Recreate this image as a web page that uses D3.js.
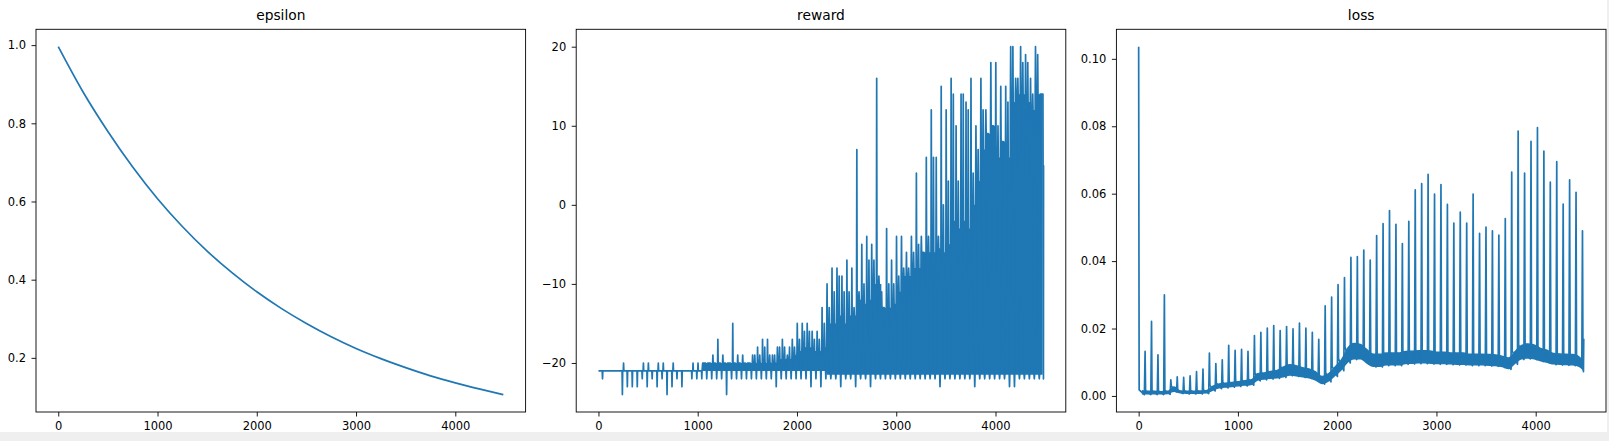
<!DOCTYPE html>
<html>
<head>
<meta charset="utf-8">
<script src="https://cdn.jsdelivr.net/npm/d3@7"></script>
<style>
  html, body { margin: 0; padding: 0; background: #fff; }
  body { width: 1609px; height: 441px; overflow: hidden; }
  svg text { font-family: "DejaVu Sans", sans-serif; fill: #000; }
  .tick text { font-size: 11.5px; }
  .panel-title { font-size: 13.8px; }
</style>
</head>
<body>
<div class="figure"></div>
<script>
// Gemensamma x-värden (steg)
const xTicks = [0, 1000, 2000, 3000, 4000];
const lastStep = 4484;

// epsilon, avläst var 250:e steg
const epsilonSteps = [0, 250, 500, 750, 1000, 1250, 1500, 1750, 2000, 2250,
    2500, 2750, 3000, 3250, 3500, 3750, 4000, 4250, 4484];
const epsilonValues = [0.996, 0.880, 0.779, 0.688, 0.607, 0.536, 0.473, 0.418, 0.369, 0.326,
    0.288, 0.254, 0.224, 0.198, 0.175, 0.154, 0.136, 0.120, 0.106];
const epsilonTicks = [0.2, 0.4, 0.6, 0.8, 1.0];

// reward, ett värde per block om 50 steg
const rewardBin = 50;
// högsta topp i blocket
const rewardMax = [
    -21, -21, -21, -21, -21, -20, -21, -21, -21, -20,
    -20, -21, -20, -20, -21, -20, -21, -21, -21, -20,
    -20, -20, -20, -19, -17, -19, -20, -15, -19, -19,
    -20, -19, -18, -17, -17, -19, -18, -17, -19, -17,
    -15, -15, -15, -16, -16, -13, -10, -8, -8, -9,
    -7, -8, 7, -5, -4, -5, 16, -11, -3, -7,
    -4, -4, -6, -4, 4, -4, 6, 12, 6, 15,
    12, 16, 10, 14, 13, 16, 10, 16, 12, 18,
    18, 15, 15, 20, 16, 20, 19, 16, 20, 14];
// näst högsta topp i blocket
const rewardSecond = [
    -21, -21, -21, -21, -21, -21, -21, -21, -21, -21,
    -21, -21, -21, -21, -21, -21, -21, -21, -21, -21,
    -21, -20, -20, -20, -20, -20, -20, -20, -20, -20,
    -20, -19, -19, -18, -19, -19, -18, -18, -18, -18,
    -17, -16, -16, -17, -17, -15, -13, -11, -9, -11,
    -11, -13, -11, -10, -7, -7, -9, -13, -10, -10,
    -9, -8, -8, -6, -5, -6, -4, 6, -4, 0,
    3, 14, 3, 14, 12, 4, 7, 12, 9, 10,
    10, 8, 13, 20, 16, 18, 18, 14, 19, 14];
// lägsta dal i blocket
const rewardMin = [
    -22, -21, -21, -21, -24, -23, -23, -23, -22, -23,
    -22, -23, -22, -24, -23, -22, -23, -21, -22, -22,
    -22, -22, -22, -22, -22, -24, -22, -22, -22, -22,
    -22, -22, -22, -22, -22, -23, -22, -22, -22, -22,
    -22, -22, -23, -22, -23, -22, -22, -22, -23, -22,
    -22, -23, -22, -22, -23, -22, -22, -22, -22, -22,
    -22, -22, -22, -22, -22, -22, -22, -22, -23, -22,
    -22, -22, -22, -22, -22, -23, -22, -22, -22, -22,
    -22, -22, -23, -23, -22, -22, -22, -22, -22, -22];
// övre och undre kant på det täta (helfyllda) bandet
const rewardDenseTop = [
    -21, -21, -21, -21, -21, -21, -21, -21, -21, -21,
    -21, -21, -21, -21, -21, -21, -21, -21, -21, -21,
    -21, -20, -20, -20, -20, -20, -20, -20, -20, -20,
    -20, -20, -20, -20, -20, -20, -19.5, -19.5, -19.5, -19,
    -18.5, -18, -18, -18.5, -18.5, -18, -15, -15, -14, -15,
    -14, -14, -12, -12.5, -12, -10, -10, -13, -13, -12.5,
    -11, -9, -9, -8, -8, -6, -6, -6, -5.5, -6,
    -5, -2, -3, -2, -3, 0, 3, 7, 9, 10,
    6, 8, 6, 13, 14, 14, 13, 12, 14, 14];
const rewardDenseBottom = [
    -21, -21, -21, -21, -21, -21, -21, -21, -21, -21,
    -21, -21, -21, -21, -21, -21, -21, -21, -21, -21,
    -21, -21, -21, -21, -21, -21, -21, -21, -21, -21,
    -21, -21, -21, -21, -21, -21, -21, -21, -21, -21,
    -21, -21, -21, -21, -21, -21, -21.5, -21.5, -21.5, -21.5,
    -21.5, -21.5, -21.5, -21.5, -21.5, -21.5, -21.5, -21.5, -21.5, -21.5,
    -21.5, -21.5, -21.5, -21.5, -21.5, -21.5, -21.5, -21.5, -21.5, -21.5,
    -21.5, -21.5, -21.5, -21.5, -21.5, -21.5, -21.5, -21.5, -21.5, -21.5,
    -21.5, -21.5, -21.5, -21.5, -21.5, -21.5, -21.5, -21.5, -21.5, -21.5];
const rewardLast = 5;
const rewardTicks = [-20, -10, 0, 10, 20];

// loss, ett värde per cykel (en topp var ~65:e steg)
const lossCycle = 64.8;
const lossPeak = [
    0.1036, 0.0132, 0.0221, 0.0122, 0.0300, 0.0048, 0.0057, 0.0055, 0.0060, 0.0072,
    0.0080, 0.0127, 0.0096, 0.0107, 0.0150, 0.0135, 0.0138, 0.0132, 0.0179, 0.0189,
    0.0201, 0.0209, 0.0194, 0.0206, 0.0199, 0.0216, 0.0201, 0.0189, 0.0168, 0.0267,
    0.0293, 0.0330, 0.0351, 0.0411, 0.0413, 0.0433, 0.0403, 0.0476, 0.0511, 0.0550,
    0.0509, 0.0452, 0.0518, 0.0611, 0.0630, 0.0657, 0.0599, 0.0627, 0.0568, 0.0513,
    0.0545, 0.0513, 0.0599, 0.0482, 0.0501, 0.0490, 0.0477, 0.0526, 0.0664, 0.0786,
    0.0661, 0.0755, 0.0796, 0.0726, 0.0634, 0.0695, 0.0569, 0.0641, 0.0604, 0.0490];
const lossBandLow = [
    0.0004, 0.0004, 0.0004, 0.0004, 0.0005, 0.0012, 0.0007, 0.0006, 0.0006, 0.0006,
    0.0007, 0.0015, 0.0022, 0.0024, 0.0026, 0.0028, 0.0030, 0.0032, 0.0045, 0.0048,
    0.0050, 0.0052, 0.0055, 0.0060, 0.0058, 0.0055, 0.0052, 0.0045, 0.0035, 0.0042,
    0.0058, 0.0075, 0.0098, 0.0108, 0.0108, 0.0095, 0.0086, 0.0086, 0.0090, 0.0090,
    0.0090, 0.0094, 0.0095, 0.0096, 0.0096, 0.0095, 0.0094, 0.0094, 0.0093, 0.0092,
    0.0092, 0.0090, 0.0090, 0.0090, 0.0089, 0.0088, 0.0085, 0.0079, 0.0094, 0.0108,
    0.0110, 0.0108, 0.0102, 0.0098, 0.0093, 0.0092, 0.0091, 0.0090, 0.0085, 0.0072];
const lossBandHigh = [
    0.0018, 0.0016, 0.0016, 0.0015, 0.0016, 0.0029, 0.0017, 0.0016, 0.0016, 0.0017,
    0.0018, 0.0031, 0.0038, 0.0040, 0.0042, 0.0044, 0.0047, 0.0050, 0.0068, 0.0070,
    0.0075, 0.0078, 0.0088, 0.0095, 0.0092, 0.0086, 0.0082, 0.0074, 0.0060, 0.0068,
    0.0088, 0.0110, 0.0145, 0.0158, 0.0155, 0.0140, 0.0126, 0.0126, 0.0130, 0.0130,
    0.0130, 0.0134, 0.0135, 0.0136, 0.0136, 0.0135, 0.0132, 0.0132, 0.0130, 0.0130,
    0.0130, 0.0126, 0.0126, 0.0126, 0.0125, 0.0124, 0.0120, 0.0115, 0.0134, 0.0152,
    0.0156, 0.0153, 0.0143, 0.0138, 0.0128, 0.0127, 0.0126, 0.0125, 0.0118, 0.0105];
const lossLast = 0.017;
const lossTicks = [0.00, 0.02, 0.04, 0.06, 0.08, 0.10];

// Layout (matplotlib-liknande)
const figW = 1609, figH = 441;
const axesLeft0 = 36, axesGap = 50.6;
const axesWidth = 489.6, axesTop = 29.3, axesHeight = 382.7;
const blue = "#1f77b4";

// 5 % marginal som matplotlib
function padDomain(lo, hi) {
    const m = (hi - lo) * 0.05;
    return [lo - m, hi + m];
}

function createPanel(svg, index, title, yExtent, yTicks, yFormat) {
    const left = axesLeft0 + index * (axesWidth + axesGap);
    const g = svg.append("g").attr("transform", `translate(${left},${axesTop})`);

    const x = d3.scaleLinear().domain(padDomain(0, lastStep)).range([0, axesWidth]);
    const y = d3.scaleLinear().domain(padDomain(yExtent[0], yExtent[1])).range([axesHeight, 0]);

    const plot = g.append("g");

    // ram + axlar ritas efter datat
    const drawFrame = () => {
        g.append("rect")
            .attr("width", axesWidth)
            .attr("height", axesHeight)
            .attr("fill", "none")
            .attr("stroke", "#000")
            .attr("stroke-width", 0.9);

        g.append("g")
            .attr("transform", `translate(0,${axesHeight})`)
            .call(d3.axisBottom(x).tickValues(xTicks).tickSize(4.5).tickPadding(5).tickFormat(d3.format("d")))
            .call(a => a.select(".domain").remove())
            .call(a => a.selectAll(".tick line").attr("stroke-width", 0.9));

        g.append("g")
            .call(d3.axisLeft(y).tickValues(yTicks).tickSize(4.5).tickPadding(5.5).tickFormat(yFormat))
            .call(a => a.select(".domain").remove())
            .call(a => a.selectAll(".tick line").attr("stroke-width", 0.9));

        g.append("text")
            .attr("class", "panel-title")
            .attr("x", axesWidth / 2)
            .attr("y", -9)
            .attr("text-anchor", "middle")
            .text(title);
    };

    return { plot, x, y, drawFrame };
}

function createFigure() {
    const svg = d3.select("div.figure").append("svg")
        .attr("width", figW)
        .attr("height", figH);

    svg.append("rect").attr("width", figW).attr("height", figH).attr("fill", "#fff");

    // --- epsilon ---
    const eps = createPanel(svg, 0, "epsilon",
        d3.extent(epsilonValues), epsilonTicks, d3.format(".1f"));
    eps.plot.append("path")
        .datum(epsilonSteps.map((s, i) => [s, epsilonValues[i]]))
        .attr("fill", "none")
        .attr("stroke", blue)
        .attr("stroke-width", 1.7)
        .attr("d", d3.line().x(d => eps.x(d[0])).y(d => eps.y(d[1])).curve(d3.curveMonotoneX));
    eps.drawFrame();

    // --- reward ---
    const rw = createPanel(svg, 1, "reward",
        [d3.min(rewardMin), d3.max(rewardMax)], rewardTicks,
        d => d < 0 ? "\u2212" + Math.abs(d) : String(d));

    // tätt band
    rw.plot.append("path")
        .datum(rewardDenseTop)
        .attr("fill", blue)
        .attr("d", d3.area()
            .x((d, b) => rw.x(b * rewardBin + rewardBin / 2))
            .y0((d, b) => rw.y(rewardDenseBottom[b]))
            .y1(d => rw.y(d))
            .curve(d3.curveStep));

    // toppar och dalar, tre utslag per block
    const rewardPoints = [];
    const clampStep = s => Math.min(s, lastStep - 1);
    rewardMax.forEach((hi, b) => {
        const s = b * rewardBin;
        const top = rewardDenseTop[b], bottom = rewardDenseBottom[b];
        [[0, top], [3, hi], [6, top],
         [22, top], [25, rewardSecond[b]], [28, top],
         [38, bottom], [41, rewardMin[b]], [44, bottom]]
            .forEach(([o, v]) => rewardPoints.push([clampStep(s + o), v]));
    });
    rewardPoints.push([lastStep, rewardLast]);

    rw.plot.append("path")
        .datum(rewardPoints)
        .attr("fill", "none")
        .attr("stroke", blue)
        .attr("stroke-width", 1.7)
        .attr("stroke-linejoin", "round")
        .attr("d", d3.line().x(d => rw.x(d[0])).y(d => rw.y(d[1])));
    rw.drawFrame();

    // --- loss ---
    const ls = createPanel(svg, 2, "loss",
        [d3.min(lossBandLow), d3.max(lossPeak)], lossTicks, d3.format(".2f"));

    ls.plot.append("path")
        .datum(lossBandHigh)
        .attr("fill", blue)
        .attr("d", d3.area()
            .x((d, k) => ls.x(Math.min(k * lossCycle + lossCycle / 2, lastStep)))
            .y0((d, k) => ls.y(lossBandLow[k]))
            .y1(d => ls.y(d))
            .curve(d3.curveMonotoneX));

    const lossPoints = [];
    lossPeak.forEach((peak, k) => {
        const s = k * lossCycle;
        lossPoints.push([s, peak], [s + 5, lossBandHigh[k]],
            [Math.min(s + 58, lastStep - 3), lossBandLow[k]]);
    });
    lossPoints.push([lastStep, lossLast]);

    ls.plot.append("path")
        .datum(lossPoints)
        .attr("fill", "none")
        .attr("stroke", blue)
        .attr("stroke-width", 1.7)
        .attr("stroke-linejoin", "round")
        .attr("d", d3.line().x(d => ls.x(d[0])).y(d => ls.y(d[1])));
    ls.drawFrame();

    // ljusgrå kant längst ned och till höger (som i skärmdumpen)
    svg.append("rect").attr("x", 0).attr("y", 432).attr("width", figW).attr("height", figH - 432).attr("fill", "#efefef");
    svg.append("rect").attr("x", 1607).attr("y", 0).attr("width", figW - 1607).attr("height", figH).attr("fill", "#efefef");
}

createFigure();
</script>
</body>
</html>
